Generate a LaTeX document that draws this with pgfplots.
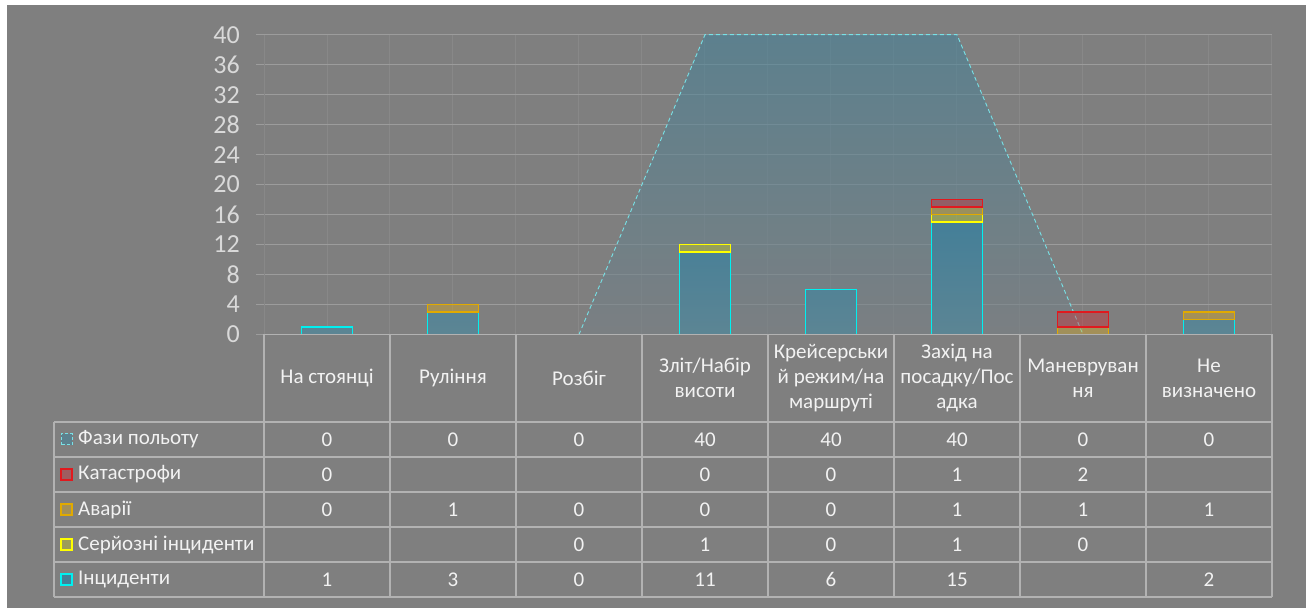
\documentclass[border=0pt]{standalone}
\usepackage{pgfplots}
\pgfplotsset{compat=1.18}
\usepackage{pgfplotstable}
\usepackage{fontspec}
\setmainfont{Carlito}

\definecolor{panel}{RGB}{127,127,127}
\definecolor{gridc}{RGB}{156,156,156}
\definecolor{vgridc}{RGB}{136,136,136}
\definecolor{rulec}{RGB}{178,178,178}
\definecolor{ticktext}{RGB}{217,217,217}
\definecolor{celltext}{RGB}{242,242,242}
\definecolor{phaseline}{RGB}{120,225,230}
\definecolor{phasetop}{RGB}{70,130,152}
\definecolor{phasebot}{RGB}{120,128,133}
\definecolor{inctop}{RGB}{68,127,152}
\definecolor{incbot}{RGB}{92,133,148}
\definecolor{incline}{RGB}{0,240,240}
\definecolor{serline}{RGB}{255,255,0}
\definecolor{serfill}{RGB}{230,230,0}
\definecolor{accline}{RGB}{225,170,0}
\definecolor{accfill}{RGB}{220,170,30}
\definecolor{catline}{RGB}{225,25,30}
\definecolor{catfill}{RGB}{220,30,40}

% flight phase events: incidents, serious incidents, accidents, catastrophes, phase band
\pgfplotstableread{
x inc ser acc cat ph
0 1  0 0 0 0
1 3  0 1 0 0
2 0  0 0 0 0
3 11 1 0 0 40
4 6  0 0 0 40
5 15 1 1 1 40
6 0  0 1 2 0
7 2  0 1 0 0
}\phasedata

\pgfplotsset{
  discard if/.style 2 args={
    x filter/.code={%
      \edef\tempa{\thisrow{#1}}\edef\tempb{#2}%
      \ifx\tempa\tempb\def\pgfmathresult{inf}\fi}},
  plotframe/.style={at={(264pt,273.5pt)}, anchor=south west,
    scale only axis, width=1008pt, height=299.8pt,
    xmin=-0.5, xmax=7.5, ymin=0, ymax=40},
  barlayer/.style={plotframe, hide axis, ybar stacked, bar width=0.405},
}

\newcommand\cellfont{\fontsize{21}{25}\selectfont}

\begin{document}
\begin{tikzpicture}[x=1pt,y=1pt]
\fill[white] (0,0) rectangle (1306,608);
\fill[panel] (7,0) rectangle (1306,603);
\path[use as bounding box] (0,0) rectangle (1306,608);

% grid, phase band
\begin{axis}[plotframe,
  axis x line*=bottom, axis y line*=left,
  x axis line style={draw=none},
  y axis line style={draw=vgridc, line width=1pt},
  xtick={0,...,7}, xticklabels={}, minor xtick={-0.5,0.5,...,7.5},
  xmajorgrids, xminorgrids, ymajorgrids,
  x grid style={vgridc, line width=1pt},
  y grid style={gridc, line width=1.3pt},
  ytick={0,4,...,40},
  xtick style={draw=none}, minor x tick style={draw=none},
  ytick style={draw=gridc, line width=1.3pt},
  tick align=outside, major tick length=8pt,
  yticklabel style={font=\fontsize{26}{26}\selectfont, text=ticktext,
    /pgf/number format/assume math mode=true, anchor=east, inner sep=0pt, xshift=-16pt},
  ]
  \addplot[draw=none, top color=phasetop, bottom color=phasebot, fill opacity=0.6]
    table[x=x, y=ph] {\phasedata} \closedcycle;
  \addplot[phaseline, line width=0.9pt, dash pattern=on 4pt off 3pt, restrict x to domain=2:6]
    table[x=x, y=ph] {\phasedata};
\end{axis}

% incidents
\begin{axis}[barlayer]
  \addplot[draw=incline, line width=1.4pt, top color=inctop, bottom color=incbot, discard if={inc}{0}]
    table[x=x, y=inc] {\phasedata};
\end{axis}
% serious incidents
\begin{axis}[barlayer]
  \addplot[draw=none, fill=none, discard if={ser}{0}] table[x=x, y=inc] {\phasedata};
  \addplot[draw=serline, line width=1.4pt, fill=serfill, fill opacity=0.3, discard if={ser}{0}]
    table[x=x, y=ser] {\phasedata};
\end{axis}
% accidents
\begin{axis}[barlayer]
  \addplot[draw=none, fill=none, discard if={acc}{0}] table[x=x, y expr=\thisrow{inc}+\thisrow{ser}] {\phasedata};
  \addplot[draw=accline, line width=1.4pt, fill=accfill, fill opacity=0.4, discard if={acc}{0}]
    table[x=x, y=acc] {\phasedata};
\end{axis}
% catastrophes
\begin{axis}[barlayer]
  \addplot[draw=none, fill=none, discard if={cat}{0}] table[x=x, y expr=\thisrow{inc}+\thisrow{ser}+\thisrow{acc}] {\phasedata};
  \addplot[draw=catline, line width=1.4pt, fill=catfill, fill opacity=0.35, discard if={cat}{0}]
    table[x=x, y=cat] {\phasedata};
\end{axis}

% data table under the plot
\draw[rulec, line width=1.3pt] (264,273.5) -- (1272,273.5);
\foreach \yy in {186,151,116,81,46,11}
  \draw[rulec, line width=1.3pt] (54,\yy) -- (1272,\yy);
\draw[rulec, line width=1.3pt] (54,186) -- (54,11);
\foreach \i in {0,...,8}
  \draw[rulec, line width=1.3pt] (264+\i*126,273.5) -- (264+\i*126,11);

\foreach \lab [count=\i from 0] in {{На стоянці},{Руління},{Розбіг},{Зліт/Набір\\висоти},
    {Крейсерськи\\й режим/на\\маршруті},{Захід на\\посадку/Пос\\адка},{Маневруван\\ня},{Не\\визначено}}
  \node[align=center, font=\cellfont, text=celltext, inner sep=0pt] at (327+\i*126,229.75) {\lab};

\foreach \v [count=\i from 0] in {0,0,0,40,40,40,0,0}
  \node[font=\cellfont, text=celltext, inner sep=0pt] at (327+\i*126,168.5) {\v};
\foreach \v [count=\i from 0] in {0,{},{},0,0,1,2,{}}
  \node[font=\cellfont, text=celltext, inner sep=0pt] at (327+\i*126,133.5) {\v};
\foreach \v [count=\i from 0] in {0,1,0,0,0,1,1,1}
  \node[font=\cellfont, text=celltext, inner sep=0pt] at (327+\i*126,98.5) {\v};
\foreach \v [count=\i from 0] in {{},{},0,1,0,1,0,{}}
  \node[font=\cellfont, text=celltext, inner sep=0pt] at (327+\i*126,63.5) {\v};
\foreach \v [count=\i from 0] in {1,3,0,11,6,15,{},2}
  \node[font=\cellfont, text=celltext, inner sep=0pt] at (327+\i*126,28.5) {\v};

% series keys and names
\fill[phasetop!60!panel] (61,163) rectangle (72,174);
\draw[phaseline, line width=1pt, dash pattern=on 3pt off 2pt] (61,163) rectangle (72,174);
\fill[catfill, fill opacity=0.35] (61,128) rectangle (72,139);
\draw[catline, line width=1.2pt] (61,128) rectangle (72,139);
\fill[accfill, fill opacity=0.4] (61,93) rectangle (72,104);
\draw[accline, line width=1.2pt] (61,93) rectangle (72,104);
\fill[serfill, fill opacity=0.3] (61,58) rectangle (72,69);
\draw[serline, line width=1.2pt] (61,58) rectangle (72,69);
\fill[inctop] (61,23) rectangle (72,34);
\draw[incline, line width=1.2pt] (61,23) rectangle (72,34);

\foreach \name/\yy in {{Фази польоту}/168.5,{Катастрофи}/133.5,{Аварії}/98.5,
    {Серйозні інциденти}/63.5,{Інциденти}/28.5}
  \node[anchor=west, font=\cellfont, text=celltext, inner sep=0pt] at (78,\yy) {\name};
\end{tikzpicture}
\end{document}
